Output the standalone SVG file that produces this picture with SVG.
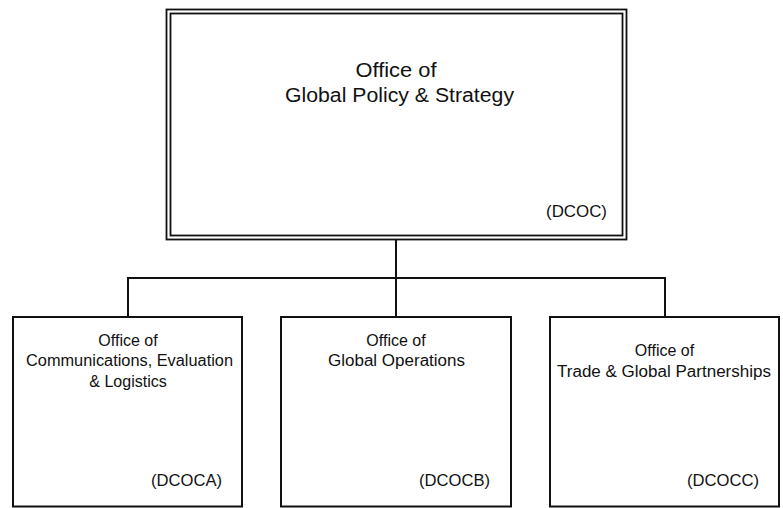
<svg xmlns="http://www.w3.org/2000/svg" width="783" height="508" viewBox="0 0 783 508">
<style>
.box{fill:#fff;stroke:#111;stroke-width:2}
.dbl{fill:none;stroke:#111;stroke-width:1.8}
.conn{fill:none;stroke:#111;stroke-width:2}
text{font-family:"Liberation Sans",Arial,sans-serif;fill:#111}
.t1{font-size:20px;text-anchor:middle}
.t2{font-size:16px;text-anchor:middle}
.code{font-size:16px;text-anchor:end}
</style>
<rect width="783" height="508" fill="#fff"/>
<g id="connectors">
<path class="conn" d="M396,239 V278 M128,317 V278 H665 V317 M396,278 V317"/>
</g>
<g id="dcoc">
<rect class="box" x="166.5" y="9.5" width="460" height="230" style="stroke-width:1.8"/>
<rect class="dbl" x="170.5" y="13.5" width="452" height="222"/>
<text class="t1" x="396" y="77" textLength="81" lengthAdjust="spacingAndGlyphs">Office of</text>
<text class="t1" x="399.5" y="102" textLength="229" lengthAdjust="spacingAndGlyphs">Global Policy &amp; Strategy</text>
<text class="code" x="607" y="217" style="font-size:17px" textLength="61" lengthAdjust="spacingAndGlyphs">(DCOC)</text>
</g>
<g id="dcoca">
<rect class="box" x="13" y="317" width="229" height="189.5"/>
<text class="t2" x="128" y="346">Office of</text>
<text class="t2" x="129.5" y="366" textLength="207" lengthAdjust="spacingAndGlyphs">Communications, Evaluation</text>
<text class="t2" x="128" y="387">&amp; Logistics</text>
<text class="code" x="222" y="486" textLength="71" lengthAdjust="spacingAndGlyphs">(DCOCA)</text>
</g>
<g id="dcocb">
<rect class="box" x="281" y="317" width="230" height="189.5"/>
<text class="t2" x="396" y="346">Office of</text>
<text class="t2" x="396.5" y="366" textLength="137" lengthAdjust="spacingAndGlyphs">Global Operations</text>
<text class="code" x="490" y="486" textLength="71" lengthAdjust="spacingAndGlyphs">(DCOCB)</text>
</g>
<g id="dcocc">
<rect class="box" x="550" y="317" width="229" height="189.5"/>
<text class="t2" x="664.5" y="356">Office of</text>
<text class="t2" x="664" y="377" textLength="214" lengthAdjust="spacingAndGlyphs">Trade &amp; Global Partnerships</text>
<text class="code" x="759" y="486" textLength="72" lengthAdjust="spacingAndGlyphs">(DCOCC)</text>
</g>
</svg>
